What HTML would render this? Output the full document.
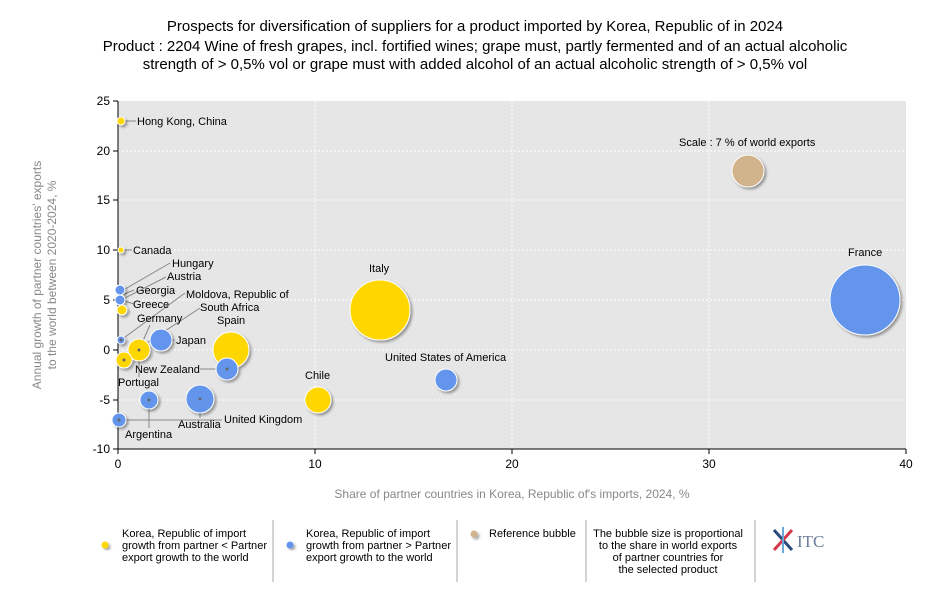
<!DOCTYPE html><html><head><style>body{margin:0;background:#fff}text{font-family:"Liberation Sans",sans-serif}</style></head><body>
<svg width="950" height="600" xmlns="http://www.w3.org/2000/svg">
<defs><filter id="s"><feDropShadow dx="2" dy="2" stdDeviation="1.2" flood-color="#000" flood-opacity="0.35"/></filter></defs>
<g font-size="15" text-anchor="middle" fill="#000">
<text x="475" y="31">Prospects for diversification of suppliers for a product imported by Korea, Republic of in 2024</text>
<text x="475" y="51">Product : 2204 Wine of fresh grapes, incl. fortified wines; grape must, partly fermented and of an actual alcoholic</text>
<text x="475" y="69">strength of &gt; 0,5% vol or grape must with added alcohol of an actual alcoholic strength of &gt; 0,5% vol</text>
</g>
<rect x="118" y="101" width="788" height="348" fill="#e6e6e6"/>
<g stroke="#fff" stroke-dasharray="2,2" stroke-width="1">
<line x1="315" y1="101" x2="315" y2="449"/><line x1="512" y1="101" x2="512" y2="449"/><line x1="709" y1="101" x2="709" y2="449"/>
<line x1="118" y1="151" x2="906" y2="151"/><line x1="118" y1="200" x2="906" y2="200"/><line x1="118" y1="250" x2="906" y2="250"/><line x1="118" y1="300" x2="906" y2="300"/><line x1="118" y1="350" x2="906" y2="350"/><line x1="118" y1="400" x2="906" y2="400"/>
</g>
<line x1="118" y1="101" x2="118" y2="449" stroke="#000"/><line x1="118" y1="449" x2="906" y2="449" stroke="#000"/>
<g stroke="#000"><line x1="113" y1="101" x2="118" y2="101"/><line x1="113" y1="151" x2="118" y2="151"/><line x1="113" y1="200" x2="118" y2="200"/><line x1="113" y1="250" x2="118" y2="250"/><line x1="113" y1="300" x2="118" y2="300"/><line x1="113" y1="350" x2="118" y2="350"/><line x1="113" y1="400" x2="118" y2="400"/><line x1="113" y1="449" x2="118" y2="449"/>
<line x1="118" y1="449" x2="118" y2="454"/><line x1="315" y1="449" x2="315" y2="454"/><line x1="512" y1="449" x2="512" y2="454"/><line x1="709" y1="449" x2="709" y2="454"/><line x1="906" y1="449" x2="906" y2="454"/></g>
<g font-size="12" text-anchor="end"><text x="110" y="105">25</text><text x="110" y="155">20</text><text x="110" y="204">15</text><text x="110" y="254">10</text><text x="110" y="304">5</text><text x="110" y="354">0</text><text x="110" y="404">-5</text><text x="110" y="453">-10</text></g>
<g font-size="12" text-anchor="middle"><text x="118" y="468">0</text><text x="315" y="468">10</text><text x="512" y="468">20</text><text x="709" y="468">30</text><text x="906" y="468">40</text></g>
<text x="512" y="498" font-size="12" fill="#888" text-anchor="middle">Share of partner countries in Korea, Republic of's imports, 2024, %</text>
<g font-size="12" fill="#888" text-anchor="middle" transform="rotate(-90)"><text x="-275" y="41">Annual growth of partner countries' exports</text><text x="-275" y="56">to the world between 2020-2024, %</text></g>
<g stroke="#888" stroke-width="1" fill="none">
<line x1="121" y1="121" x2="136" y2="121"/><line x1="121" y1="250" x2="132" y2="250"/>
<line x1="120" y1="292" x2="170" y2="263"/><line x1="121" y1="300" x2="166" y2="277"/><line x1="122" y1="295" x2="134" y2="290"/><line x1="122" y1="300" x2="134" y2="304"/>
<line x1="121" y1="340" x2="185" y2="293"/><line x1="124" y1="358" x2="200" y2="308"/>
<line x1="139" y1="350" x2="150" y2="325"/><line x1="161" y1="340" x2="174" y2="340"/>
<line x1="200" y1="369" x2="227" y2="369"/><line x1="139" y1="350" x2="139" y2="377"/>
<line x1="149" y1="400" x2="149" y2="428"/><line x1="200" y1="399" x2="200" y2="418"/><line x1="119" y1="420" x2="222" y2="420"/>
</g>
<g filter="url(#s)" stroke="#fff" stroke-width="1">
<circle cx="865" cy="300" r="35" fill="#6495ED"/>
<circle cx="380" cy="310" r="30" fill="#FFD700"/>
<circle cx="748" cy="171" r="16" fill="#D2B48C"/>
<circle cx="231" cy="350" r="18" fill="#FFD700"/>
<circle cx="227" cy="369" r="11" fill="#6495ED"/>
<circle cx="318" cy="400" r="13" fill="#FFD700"/>
<circle cx="446" cy="380" r="11" fill="#6495ED"/>
<circle cx="200" cy="399" r="14" fill="#6495ED"/>
<circle cx="149" cy="400" r="9" fill="#6495ED"/>
<circle cx="161" cy="340" r="11" fill="#6495ED"/>
<circle cx="139" cy="350" r="11" fill="#FFD700"/>
<circle cx="124" cy="360" r="8" fill="#FFD700"/>
<circle cx="121" cy="340" r="4" fill="#6495ED"/>
<circle cx="122" cy="310" r="5" fill="#FFD700"/>
<circle cx="120" cy="300" r="5" fill="#6495ED"/>
<circle cx="120" cy="290" r="5" fill="#6495ED"/>
<circle cx="121" cy="250" r="3" fill="#FFD700"/>
<circle cx="121" cy="121" r="4" fill="#FFD700"/>
<circle cx="119" cy="420" r="7" fill="#6495ED"/>
</g>
<g fill="#666"><circle cx="200" cy="399" r="1.5"/><circle cx="149" cy="400" r="1.5"/><circle cx="227" cy="369" r="1.5"/><circle cx="139" cy="350" r="1.5"/><circle cx="124" cy="360" r="1.5"/><circle cx="121" cy="340" r="1.5"/><circle cx="119" cy="420" r="1.5"/></g>
<g font-size="11">
<text x="137" y="125">Hong Kong, China</text><text x="133" y="254">Canada</text>
<text x="172" y="267">Hungary</text><text x="167" y="280">Austria</text><text x="136" y="294">Georgia</text><text x="133" y="308">Greece</text>
<text x="186" y="298">Moldova, Republic of</text><text x="200" y="311">South Africa</text><text x="137" y="322">Germany</text>
<text x="217" y="324">Spain</text><text x="176" y="344">Japan</text><text x="135" y="373">New Zealand</text><text x="118" y="386">Portugal</text>
<text x="305" y="379">Chile</text><text x="369" y="272">Italy</text><text x="385" y="361">United States of America</text><text x="848" y="256">France</text>
<text x="679" y="146">Scale : 7 % of world exports</text>
<text x="178" y="428">Australia</text><text x="224" y="423">United Kingdom</text><text x="125" y="438">Argentina</text>
</g>
<g stroke="#aaa"><line x1="273" y1="520" x2="273" y2="582"/><line x1="457" y1="520" x2="457" y2="582"/><line x1="586" y1="520" x2="586" y2="582"/><line x1="755" y1="520" x2="755" y2="582"/></g>
<g filter="url(#s)"><circle cx="105" cy="545" r="3.5" fill="#FFD700"/><circle cx="290" cy="545" r="3.5" fill="#6495ED"/><circle cx="474" cy="534" r="3.5" fill="#D2B48C"/></g>
<g font-size="11"><text x="122" y="537">Korea, Republic of import</text><text x="122" y="549" textLength="145" lengthAdjust="spacingAndGlyphs">growth from partner &lt; Partner</text><text x="122" y="561">export growth to the world</text>
<text x="306" y="537">Korea, Republic of import</text><text x="306" y="549" textLength="145" lengthAdjust="spacingAndGlyphs">growth from partner &gt; Partner</text><text x="306" y="561">export growth to the world</text>
<text x="489" y="537">Reference bubble</text>
<g text-anchor="middle"><text x="668" y="537">The bubble size is proportional</text><text x="668" y="549">to the share in world exports</text><text x="668" y="561">of partner countries for</text><text x="668" y="573">the selected product</text></g></g>
<g stroke-width="3"><line x1="774" y1="530" x2="792" y2="550" stroke="#2b4a7e"/><line x1="792" y1="530" x2="774" y2="550" stroke="#d33a4a"/><line x1="783" y1="527" x2="783" y2="553" stroke="#6aa8d8" stroke-width="2"/></g>
<text x="797" y="547" font-size="17" fill="#6b7c99" style="font-family:'Liberation Serif',serif">ITC</text>
</svg></body></html>
